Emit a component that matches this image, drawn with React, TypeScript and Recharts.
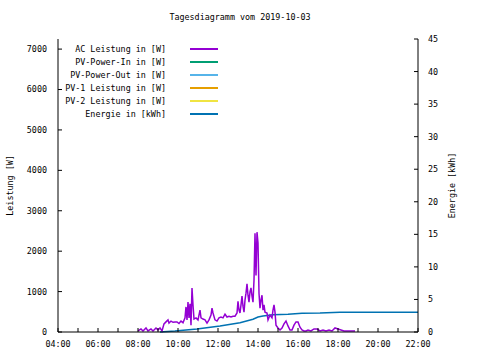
import { ComposedChart, Line, XAxis, YAxis } from "recharts"

// time of day in hours, AC power in W
const acTime = [
  8.0, 8.15, 8.25, 8.4, 8.5, 8.65, 8.75, 8.9, 9.0, 9.1, 9.2, 9.3, 9.4, 9.5, 9.55, 9.65, 9.75, 9.85, 9.95,
  10.05, 10.15, 10.25, 10.35, 10.4, 10.45, 10.5, 10.55, 10.6, 10.65, 10.7, 10.75, 10.8, 10.9, 11.0, 11.1,
  11.15, 11.25, 11.35, 11.45, 11.55, 11.65, 11.7, 11.75, 11.85, 11.95, 12.05, 12.15, 12.25, 12.35, 12.45,
  12.55, 12.65, 12.75, 12.85, 12.95, 13.0, 13.05, 13.1, 13.15, 13.2, 13.25, 13.3, 13.35, 13.4, 13.45, 13.5,
  13.55, 13.6, 13.65, 13.7, 13.75, 13.8, 13.85, 13.9, 13.95, 14.0, 14.05, 14.1, 14.15, 14.2, 14.25, 14.3,
  14.35, 14.45, 14.5, 14.6, 14.7, 14.75, 14.8, 14.85, 14.9, 15.0, 15.1, 15.2, 15.3, 15.4, 15.5, 15.6, 15.7,
  15.8, 15.9, 16.0, 16.1, 16.2, 16.3, 16.4, 16.5, 16.65, 16.8, 16.95, 17.1, 17.25, 17.4, 17.55, 17.7, 17.85,
  18.0, 18.15, 18.3, 18.45, 18.6, 18.75, 18.85,
]
const acPower = [
  25, 75, 25, 100, 25, 75, 25, 100, 50, 100, 25, 200, 250, 300, 220, 270, 240, 250, 250,
  210, 270, 230, 350, 620, 300, 740, 350, 700, 170, 1090, 670, 320, 350, 300, 540,
  350, 320, 300, 220, 300, 420, 590, 470, 300, 270, 350, 370, 350, 440, 370,
  390, 370, 390, 390, 470, 760, 540, 470, 670, 890, 640, 490, 790, 960, 1190, 910,
  740, 990, 1090, 890, 740, 1280, 2440, 1400, 2470, 2200, 960, 590, 790, 910, 540, 670,
  490, 470, 300, 420, 350, 540, 670, 490, 170, 100, 50, 100, 200, 270, 150, 50, 50,
  170, 250, 250, 120, 50, 25, 25, 50, 25, 75, 75, 25, 50, 25, 50, 25, 100,
  75, 50, 25, 25, 25, 25, 25,
]

// daily energy in kWh
const energyTime = [9.1, 9.85, 10.95, 12.1, 13.1, 13.75, 14.0, 14.25, 14.75, 15.5, 16.2, 17.1, 18.1, 22.0]
const energyKwh = [0, 0.15, 0.46, 0.92, 1.43, 1.95, 2.3, 2.46, 2.66, 2.72, 2.87, 2.9, 3.02, 3.02]

const hourTicks = [4, 5, 6, 7, 8, 9, 10, 11, 12, 13, 14, 15, 16, 17, 18, 19, 20, 21, 22]
const powerTicks = [0, 1000, 2000, 3000, 4000, 5000, 6000, 7000]
const energyTicks = [0, 5, 10, 15, 20, 25, 30, 35, 40, 45]

const legendItems = [
  { name: "AC Leistung in [W]", color: "#9400d3" },
  { name: "PV-Power-In in [W]", color: "#009e73" },
  { name: "PV-Power-Out in [W]", color: "#56b4e9" },
  { name: "PV-1 Leistung in [W]", color: "#e69f00" },
  { name: "PV-2 Leistung in [W]", color: "#f0e442" },
  { name: "Energie in [kWh]", color: "#0072b2" },
]

const FONT = "'DejaVu Sans Mono', monospace"
const tickStyle = { fontFamily: FONT, fontSize: 8.4, fill: "#000" }

const acData = acTime.map((t, i) => ({ t, ac: acPower[i] }))
const energyData = energyTime.map((t, i) => ({ t, energy: energyKwh[i] }))

function fmtHour(h: number) {
  if (h % 2 !== 0) return ""
  return `${String(h).padStart(2, "0")}:00`
}

function GnuLegend() {
  return (
    <div
      style={{
        position: "absolute",
        left: 58,
        top: 42,
        fontFamily: FONT,
        fontSize: 8.4,
        color: "#000",
        pointerEvents: "none",
      }}
    >
      {legendItems.map((item) => (
        <div key={item.name} style={{ display: "flex", alignItems: "center", height: 13 }}>
          <span style={{ width: 108, textAlign: "right", whiteSpace: "pre" }}>{item.name}</span>
          <span style={{ width: 24 }} />
          <span style={{ display: "block", width: 28, height: 2, background: item.color }} />
        </div>
      ))}
    </div>
  )
}

export default function App() {
  return (
    <div style={{ position: "absolute", left: 0, top: 0, width: 480, height: 360, background: "#fff" }}>
      <div
        style={{
          position: "absolute",
          top: 12,
          left: 0,
          width: 480,
          textAlign: "center",
          fontFamily: FONT,
          fontSize: 8.4,
          color: "#000",
        }}
      >
        Tagesdiagramm vom 2019-10-03
      </div>
      <ComposedChart width={480} height={360} margin={{ top: 39, right: 0, bottom: 0, left: 0 }}>
        <XAxis
          xAxisId="bottom"
          dataKey="t"
          type="number"
          domain={[4, 22]}
          ticks={hourTicks}
          interval={0}
          tickFormatter={fmtHour}
          height={28}
          stroke="#000"
          tickSize={-4}
          tickMargin={13}
          tick={tickStyle}
          allowDuplicatedCategory={false}
        />
        <XAxis
          xAxisId="top"
          orientation="top"
          dataKey="t"
          type="number"
          domain={[4, 22]}
          ticks={hourTicks}
          interval={0}
          tickFormatter={() => ""}
          height={0}
          stroke="#000"
          tickSize={-4}
        />
        <YAxis
          yAxisId="power"
          domain={[0, 7250]}
          ticks={powerTicks}
          interval={0}
          width={58}
          stroke="#000"
          tickSize={-4}
          tickMargin={15}
          tick={tickStyle}
          label={{
            value: "Leistung [W]",
            angle: -90,
            position: "insideLeft",
            offset: 10,
            style: { fontFamily: FONT, fontSize: 8.4, fill: "#000", textAnchor: "middle" },
          }}
        />
        <YAxis
          yAxisId="energy"
          orientation="right"
          domain={[0, 45]}
          ticks={energyTicks}
          interval={0}
          width={62}
          stroke="#000"
          tickSize={-4}
          tickMargin={14}
          tick={{ ...tickStyle, textAnchor: "start" }}
          label={{
            value: "Energie [kWh]",
            angle: -90,
            position: "insideRight",
            offset: 28,
            style: { fontFamily: FONT, fontSize: 8.4, fill: "#000", textAnchor: "middle" },
          }}
        />
        <Line
          xAxisId="bottom"
          yAxisId="energy"
          data={energyData}
          dataKey="energy"
          type="linear"
          stroke="#0072b2"
          strokeWidth={1.5}
          dot={false}
          isAnimationActive={false}
        />
        <Line
          xAxisId="bottom"
          yAxisId="power"
          data={acData}
          dataKey="ac"
          type="linear"
          stroke="#9400d3"
          strokeWidth={1.5}
          dot={false}
          isAnimationActive={false}
        />
      </ComposedChart>
      <GnuLegend />
    </div>
  )
}
